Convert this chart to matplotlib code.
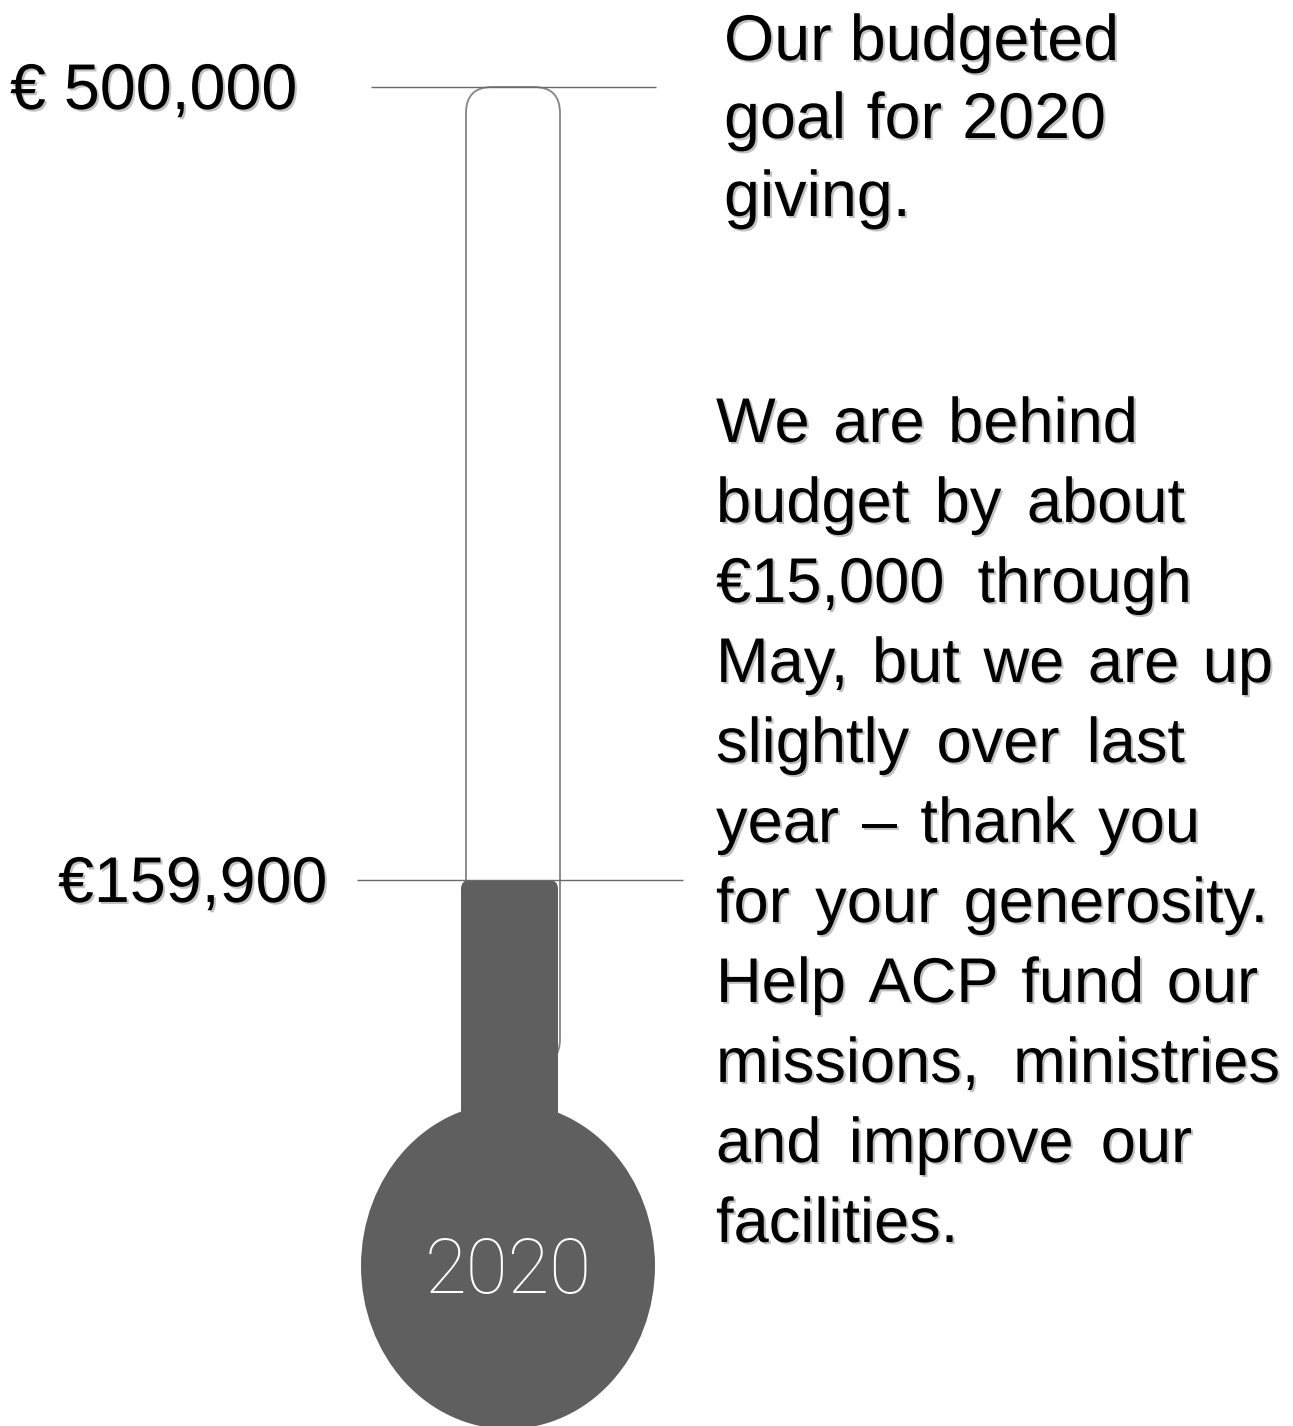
import matplotlib
matplotlib.use('Agg')  # Non-interactive backend
import matplotlib.pyplot as plt
from matplotlib.patches import FancyBboxPatch, Ellipse
import matplotlib.patheffects as pe

# Data
goal = 500000
raised = 159900
level_labels = ["€ 500,000", "€159,900"]
year_label = "2020"
goal_note = ["Our budgeted", "goal for 2020", "giving."]
status_note = [
    "We are behind",
    "budget by about",
    "€15,000 through",
    "May, but we are up",
    "slightly over last",
    "year – thank you",
    "for your generosity.",
    "Help ACP fund our",
    "missions, ministries",
    "and improve our",
    "facilities.",
]
# right edge of each justified line (px), None = left aligned
goal_note_right = [1118, 1106, None]
status_note_right = [1138, 1185, 1192, 1273, 1185, 1200, 1268, 1258, 1280, 1192, None]

# Value axis limits (euros); figure is 1293 x 1426 px
y_top, y_bottom = 537310, -74270
W, H = 1293, 1426
eur_per_px = (y_top - y_bottom) / H

plt.rcParams['font.family'] = ['Liberation Sans', 'DejaVu Sans']

fig = plt.figure(figsize=(W / 100, H / 100), dpi=100)
ax = fig.add_axes([0, 0, 1, 1])
ax.set_xlim(0, W)
ax.set_ylim(y_bottom, y_top)
ax.axis('off')
renderer = fig.canvas.get_renderer()


def py(px):
    """pixel row -> euro value on the y axis"""
    return y_top - px * eur_per_px


tube_grey = '#858585'
fill_grey = '#5f5f5f'
line_grey = '#6a6a6a'

# empty tube
tube_bottom = py(1065)
tube = FancyBboxPatch((466, tube_bottom), 94, goal - tube_bottom,
                      boxstyle="round,pad=0,rounding_size=26",
                      mutation_aspect=eur_per_px,
                      facecolor='white', edgecolor=tube_grey, linewidth=1.3, zorder=2)
ax.add_patch(tube)

# bulb
bulb_cy = py(1266)
ax.add_patch(Ellipse((508, bulb_cy), 294, 326 * eur_per_px,
                     facecolor=fill_grey, edgecolor='none', zorder=3))

# mercury up to the amount raised
fill = FancyBboxPatch((461, bulb_cy), 97, raised - bulb_cy,
                      boxstyle="round,pad=0,rounding_size=9",
                      mutation_aspect=eur_per_px,
                      facecolor=fill_grey, edgecolor='none', zorder=3)
ax.add_patch(fill)

# level lines
ax.hlines(goal, 371, 656, color=line_grey, linewidth=1.0, zorder=4)
ax.hlines(raised, 357, 683, color=line_grey, linewidth=1.0, zorder=4)

shadow = [pe.withSimplePatchShadow(offset=(1.5, -1.5), shadow_rgbFace='#777777', alpha=0.45)]

# level labels
for label, value, x in zip(level_labels, [goal, raised], [10, 58]):
    ax.text(x, value - 22 * eur_per_px, label, fontsize=46.5, color='black',
            ha='left', va='baseline', path_effects=shadow, zorder=5)

# year in the bulb
ax.text(508, py(1293), year_label, fontsize=55, color='white', ha='center',
        va='baseline', family=['Roboto', 'DejaVu Sans'], fontweight='light', zorder=5)


def justified_line(x0, x1, y, line, size):
    """draw a line word by word, stretching the gaps so it ends at x1"""
    words = line.split(' ')
    texts = [ax.text(0, y, w, fontsize=size, color='black', ha='left',
                     va='baseline', path_effects=shadow) for w in words]
    widths = [t.get_window_extent(renderer).width for t in texts]
    space = ax.text(0, y, 'a a', fontsize=size).get_window_extent(renderer).width \
        - 2 * ax.text(0, y, 'a', fontsize=size).get_window_extent(renderer).width
    ax.texts[-1].remove()
    ax.texts[-1].remove()
    gap = space
    if x1 is not None and len(words) > 1:
        gap = max(space, (x1 - x0 - sum(widths)) / (len(words) - 1))
    x = x0
    for t, w in zip(texts, widths):
        t.set_x(x)
        x += w + gap


# notes on the right
for i, (line, right) in enumerate(zip(goal_note, goal_note_right)):
    justified_line(724, right, py(60 + 78 * i), line, 46.5)

for i, (line, right) in enumerate(zip(status_note, status_note_right)):
    justified_line(716, right, py(442 + 80 * i), line, 45.5)

fig.savefig('out.png', dpi=100, facecolor='white')
